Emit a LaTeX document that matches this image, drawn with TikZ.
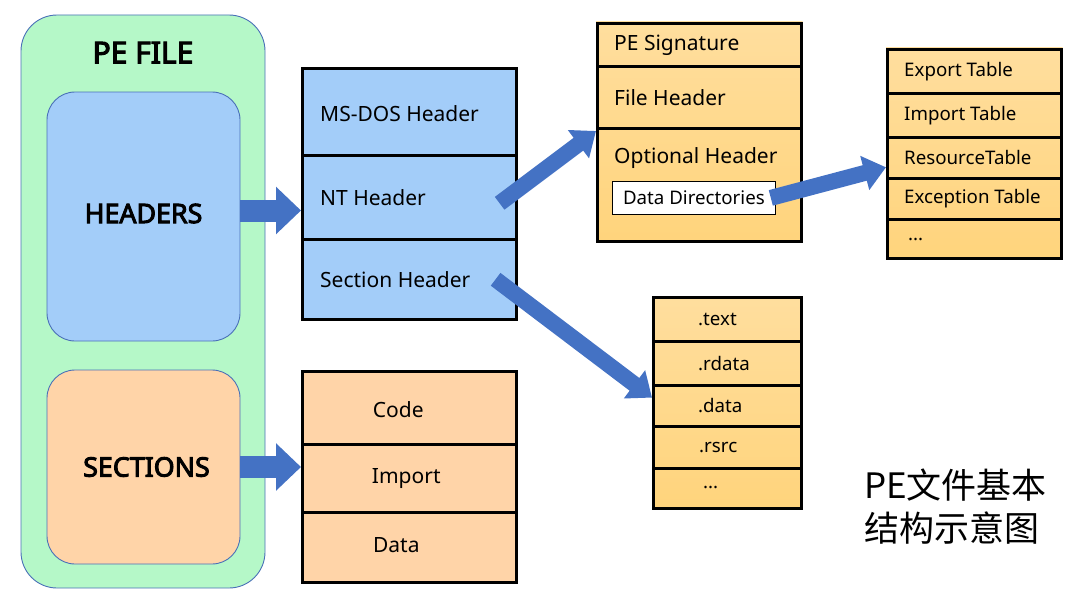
\documentclass[tikz,border=0pt]{standalone}
\usepackage{fontspec}
\setmainfont{Noto Sans}
\newfontfamily\heavyfont{Noto Sans}[FakeBold=3.5]
\newfontfamily\cjkfont{Noto Sans CJK SC}
\usetikzlibrary{arrows.meta,backgrounds}
\definecolor{gfill}{HTML}{B5F8C8}
\definecolor{bborder}{HTML}{4A70B8}
\definecolor{hfill}{HTML}{A3CDF9}
\definecolor{pfill}{HTML}{FFD4A8}
\definecolor{otop}{HTML}{FFDE9E}
\definecolor{obot}{HTML}{FFD47C}
\definecolor{arr}{HTML}{4472C4}
\begin{document}
\begin{tikzpicture}[x=1pt,y=-1pt,
  cell/.style={draw=black, line width=2.6pt, inner sep=0pt, anchor=north west},
  rbox/.style={draw=bborder, line width=0.9pt, inner sep=0pt},
  lbl/.style={inner sep=0pt, anchor=west, font=\fontsize{21}{25}\selectfont},
  slbl/.style={inner sep=0pt, anchor=west, font=\fontsize{18.7}{22}\selectfont},
  clbl/.style={inner sep=0pt, font=\fontsize{21}{25}\selectfont},
  bold/.style={font=\heavyfont\fontsize{26.8}{31}\selectfont},
  blk/.style={draw=arr, line width=22pt, -{Triangle[length=25pt,width=46pt]}},
  dblk/.style={draw=arr, line width=16pt, -{Triangle[length=22pt,width=34pt]}},
  otable/.style={top color=otop, bottom color=obot}
]
\useasboundingbox (0,0) rectangle (1091,610);

% PE file container
\node[rbox, fill=gfill, rounded corners=36pt, minimum width=244pt, minimum height=573pt] (pe) at (143,301.5) {};
\node[inner sep=0pt, font=\heavyfont\fontsize{30}{34}\selectfont] (petitle) at ([yshift=-38pt]pe.north) {PE FILE};
\node[rbox, fill=hfill, rounded corners=28pt, minimum width=193pt, minimum height=249pt] (hdr) at (143.5,216.5) {};
\node[inner sep=0pt, bold] at ([yshift=3pt]hdr.center) {HEADERS};
\node[rbox, fill=pfill, rounded corners=28pt, minimum width=193pt, minimum height=194pt] (sec) at (143.5,467) {};
\node[inner sep=0pt, bold] at ([xshift=3pt]sec.center) {SECTIONS};

% headers table
\node[cell, fill=hfill, minimum width=214pt, minimum height=87pt] (dos) at (301,67) {};
\node[cell, fill=hfill, minimum width=214pt, minimum height=84pt] (nt) at (301,154) {};
\node[cell, fill=hfill, minimum width=214pt, minimum height=80pt] (sh) at (301,238) {};
\node[lbl] at ([xshift=19pt,yshift=-2pt]dos.west) {MS-DOS Header};
\node[lbl] at ([xshift=19pt]nt.west) {NT Header};
\node[lbl] at ([xshift=19pt]sh.west) {Section Header};

% sections table
\node[cell, fill=pfill, minimum width=214pt, minimum height=73pt] (cd) at (301,370) {};
\node[cell, fill=pfill, minimum width=214pt, minimum height=68pt] (imp) at (301,443) {};
\node[cell, fill=pfill, minimum width=214pt, minimum height=70pt] (dat) at (301,511) {};
\node[clbl] at ([xshift=-11pt,yshift=-2pt]cd.center) {Code};
\node[clbl] at ([xshift=-3pt]imp.center) {Import};
\node[clbl] at ([xshift=-13pt,yshift=2pt]dat.center) {Data};

% NT header table
\node[cell, minimum width=204pt, minimum height=43pt] (sig) at (596,22) {};
\node[cell, minimum width=204pt, minimum height=62pt] (fh) at (596,65) {};
\node[cell, minimum width=204pt, minimum height=113pt] (opt) at (596,127) {};
\node[lbl] at ([xshift=18pt]sig.west) {PE Signature};
\node[lbl] at ([xshift=18pt]fh.west) {File Header};
\node[lbl] at ([xshift=18pt,yshift=-31pt]opt.north west) {Optional Header};
\node[draw=black, line width=0.8pt, fill=white, minimum width=163pt, minimum height=33pt, inner sep=0pt, anchor=north west, font=\fontsize{18.7}{22}\selectfont] (dd) at (612,181) {Data Directories};

% data directory table
\node[cell, minimum width=174pt, minimum height=44pt] (exp) at (886,48) {};
\node[cell, minimum width=174pt, minimum height=44pt] (impt) at (886,92) {};
\node[cell, minimum width=174pt, minimum height=41pt] (res) at (886,136) {};
\node[cell, minimum width=174pt, minimum height=41pt] (exc) at (886,177) {};
\node[cell, minimum width=174pt, minimum height=39pt] (etc) at (886,218) {};
\node[slbl] at ([xshift=18pt]exp.west) {Export Table};
\node[slbl] at ([xshift=18pt]impt.west) {Import Table};
\node[slbl] at ([xshift=18pt]res.west) {ResourceTable};
\node[slbl] at ([xshift=18pt]exc.west) {Exception Table};
\node[slbl] at ([xshift=22pt,yshift=-1pt]etc.west) {...};

% section list
\node[cell, minimum width=148pt, minimum height=44pt] (stext) at (652,296) {};
\node[cell, minimum width=148pt, minimum height=44pt] (srdata) at (652,340) {};
\node[cell, minimum width=148pt, minimum height=41pt] (sdata) at (652,384) {};
\node[cell, minimum width=148pt, minimum height=42pt] (srsrc) at (652,425) {};
\node[cell, minimum width=148pt, minimum height=40pt] (setc) at (652,467) {};
\node[slbl] at ([xshift=46pt]stext.west) {.text};
\node[slbl] at ([xshift=46pt]srdata.west) {.rdata};
\node[slbl] at ([xshift=46pt]sdata.west) {.data};
\node[slbl] at ([xshift=47pt]srsrc.west) {.rsrc};
\node[slbl] at ([xshift=51pt,yshift=1pt]setc.west) {...};

\begin{scope}[on background layer]
  \shade[otable] (sig.north west) rectangle (opt.south east);
  \shade[otable] (exp.north west) rectangle (etc.south east);
  \shade[otable] (stext.north west) rectangle (setc.south east);
\end{scope}

% caption
\node[inner sep=0pt, anchor=west, align=left, font=\cjkfont\fontsize{35}{43}\selectfont] (cap) at (864,506.5) {PE文件基本\\结构示意图};

% arrows
\coordinate (h1) at ([yshift=6pt]hdr.east);
\draw[blk] (h1) -- (h1 -| dos.west);
\draw[blk] (sec.east) -- (sec.east -| cd.west);
\draw[dblk] ([xshift=-18pt,yshift=-6pt]nt.east) -- ([yshift=-4pt]opt.north west);
\draw[dblk] ([xshift=-5pt]dd.east) -- ([yshift=-9.5pt]res.west);
\draw[dblk] ([xshift=-22pt]sh.east) -- ([yshift=-11pt]srdata.south west);
\end{tikzpicture}
\end{document}
